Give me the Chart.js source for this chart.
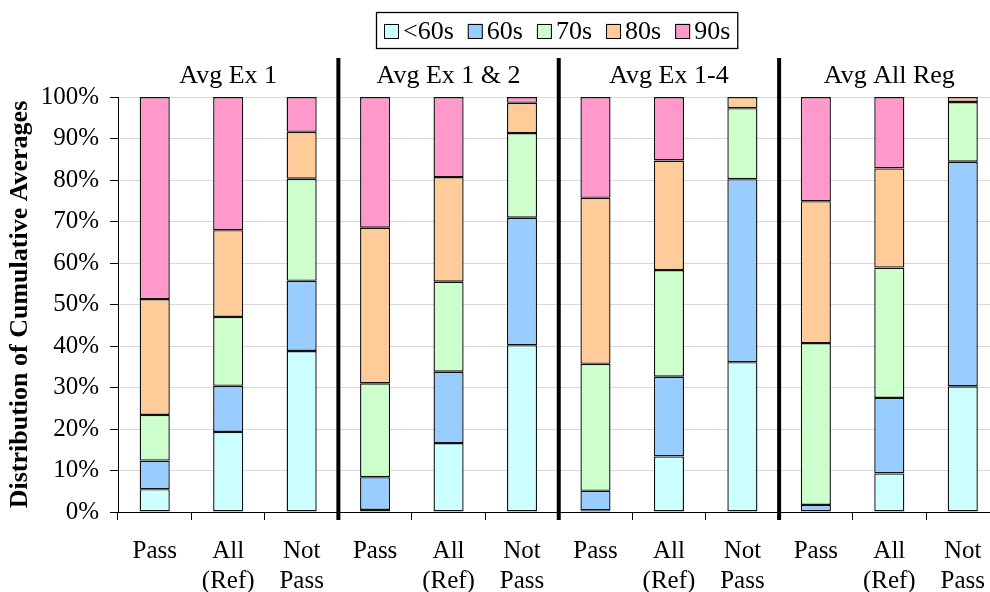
<!DOCTYPE html>
<html>
<head>
<meta charset="utf-8">
<script src="https://cdn.jsdelivr.net/npm/chart.js@4/dist/chart.umd.min.js"></script>
<style>
  html, body { margin: 0; padding: 0; background: #fff; overflow: hidden; }
  canvas { display: block; }
</style>
</head>
<body>
<canvas id="c" width="1001" height="592"></canvas>
<script>
// ---- data ----
const categories = [
  'Pass', ['All', '(Ref)'], ['Not', 'Pass'],
  'Pass', ['All', '(Ref)'], ['Not', 'Pass'],
  'Pass', ['All', '(Ref)'], ['Not', 'Pass'],
  'Pass', ['All', '(Ref)'], ['Not', 'Pass']
];
const groupTitles = ['Avg Ex 1', 'Avg Ex 1 & 2', 'Avg Ex 1-4', 'Avg All Reg'];
const seriesNames = ['<60s', '60s', '70s', '80s', '90s'];
const under60 = [5.5, 19.3, 38.8, 0.5, 16.6, 40.2, 0.4, 13.4, 36.1, 0, 9.3, 30.3];
const s60s    = [6.9, 11.1, 16.9, 7.9, 17.2, 30.7, 4.7, 19.2, 44.1, 1.7, 18.2, 54.1];
const s70s    = [11.0, 16.6, 24.6, 22.6, 21.7, 20.4, 30.6, 25.7, 17.1, 39.0, 31.4, 14.4];
const s80s    = [27.9, 20.9, 11.3, 37.5, 25.2, 7.3, 40.0, 26.4, 2.7, 34.2, 23.9, 1.2];
const s90s    = [48.7, 32.1, 8.4, 31.5, 19.3, 1.4, 24.3, 15.3, 0, 25.1, 17.2, 0];
const yTicks  = [0, 10, 20, 30, 40, 50, 60, 70, 80, 90, 100];
const yTitle  = 'Distribution of Cumulative Averages';

const colors = ['#CCFFFF', '#99CCFF', '#CCFFCC', '#FFCC99', '#FF99CC'];
const seriesData = [under60, s60s, s70s, s80s, s90s];
const FONT = '"Liberation Serif", "Times New Roman", serif';

const datasets = seriesNames.map((n, i) => ({
  label: n,
  data: seriesData[i],
  backgroundColor: colors[i],
  borderColor: '#111',
  borderWidth: 1.4,
  borderSkipped: false,
  categoryPercentage: 1,
  barPercentage: 0.41
}));

const decorPlugin = {
  id: 'decor',
  afterDraw(chart) {
    const ctx = chart.ctx;
    const x = chart.scales.x;
    const area = chart.chartArea;
    ctx.save();
    // separators
    ctx.strokeStyle = '#000';
    ctx.lineWidth = 4;
    for (let g = 1; g < groupTitles.length; g++) {
      const px = (x.getPixelForValue(g * 3 - 1) + x.getPixelForValue(g * 3)) / 2;
      ctx.beginPath();
      ctx.moveTo(px, 58);
      ctx.lineTo(px, area.bottom + 8);
      ctx.stroke();
    }
    // group titles
    ctx.fillStyle = '#000';
    ctx.font = '26px ' + FONT;
    ctx.textAlign = 'center';
    ctx.textBaseline = 'middle';
    groupTitles.forEach((t, g) => {
      const px = x.getPixelForValue(g * 3 + 1);
      ctx.fillText(t, px, 76);
    });
    // legend
    ctx.font = '26px ' + FONT;
    ctx.textAlign = 'left';
    let lx = 384;
    const ly = 31;
    const startX = 376;
    const gap = 14;
    seriesNames.forEach((n, i) => {
      ctx.fillStyle = colors[i];
      ctx.fillRect(lx, ly - 7.5, 15, 15);
      ctx.strokeStyle = '#000';
      ctx.lineWidth = 1;
      ctx.strokeRect(lx + 0.5, ly - 7 + 0.5, 14, 14);
      ctx.fillStyle = '#000';
      ctx.fillText(n, lx + 19, ly + 1);
      lx += 19 + ctx.measureText(n).width + gap;
    });
    ctx.strokeStyle = '#000';
    ctx.lineWidth = 1.3;
    ctx.strokeRect(startX + 0.5, 12.5, (lx - gap + 7) - startX, 36);
    ctx.restore();
  }
};

new Chart(document.getElementById('c'), {
  type: 'bar',
  data: { labels: categories, datasets },
  options: {
    responsive: false,
    animation: false,
    devicePixelRatio: 1,
    layout: { padding: { top: 97, left: 0, right: 0, bottom: 0 } },
    plugins: {
      legend: { display: false },
      tooltip: { enabled: false }
    },
    scales: {
      x: {
        stacked: true,
        offset: true,
        grid: {
          display: true,
          drawOnChartArea: false,
          drawTicks: true,
          tickLength: 8,
          offset: true,
          tickColor: '#000',
          color: '#000'
        },
        border: { display: true, color: '#000', width: 1 },
        ticks: {
          color: '#000',
          font: { family: FONT, size: 25, lineHeight: 1.2 },
          padding: 16,
          maxRotation: 0,
          autoSkip: false
        },
        afterFit(scale) { scale.height = 80; }
      },
      y: {
        stacked: true,
        min: 0,
        max: 100,
        afterBuildTicks(scale) { scale.ticks = yTicks.map(v => ({ value: v })); },
        grid: {
          color: '#d9d9d9',
          lineWidth: 1,
          tickLength: 8,
          tickColor: '#000'
        },
        border: { display: true, color: '#000', width: 1 },
        ticks: {
          color: '#000',
          font: { family: FONT, size: 25 },
          padding: 11,
          callback: v => v + '%'
        },
        title: {
          display: true,
          text: yTitle,
          color: '#000',
          font: { family: FONT, size: 26, weight: 'bold' },
          padding: { top: 5, bottom: 0 }
        },
        afterFit(scale) { scale.width = 118; }
      }
    }
  },
  plugins: [decorPlugin]
});
</script>
</body>
</html>
